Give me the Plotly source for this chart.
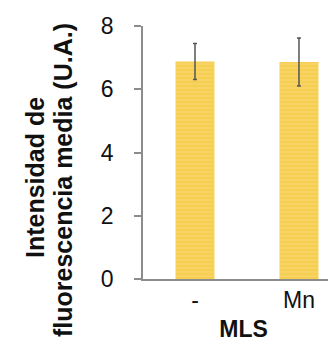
import plotly.graph_objects as go

categories = ["-", "Mn"]
values = [6.88, 6.86]
errors = [0.57, 0.76]
y_ticks = [0, 2, 4, 6, 8]
title_lines = ["Intensidad de", "fluorescencia media (U.A.)"]
x_title = "MLS"

W, H = 336, 351
ml, mr, mt, mb = 135, 0, 18, 80
pw = W - ml - mr
ph = H - mt - mb

def px_x(p):
    return (p - ml) / pw

def px_y(p):
    return (H - mb - p) / ph

font = "Liberation Sans, Arial, sans-serif"

fig = go.Figure()
fig.add_trace(go.Bar(
    x=categories, y=values,
    width=0.375,
    marker=dict(color="#F6CE52", line=dict(width=0),
                pattern=dict(shape="-", fgcolor="#FBE49C", size=4, solidity=0.25, fillmode="overlay")),
    error_y=dict(type="data", array=errors, visible=True, color="#555555", thickness=1.5, width=2),
))

fig.update_layout(
    width=W, height=H,
    margin=dict(l=ml, r=mr, t=mt, b=mb),
    plot_bgcolor="white", paper_bgcolor="white",
    showlegend=False,
    font=dict(family=font, color="#111111"),
    xaxis=dict(
        range=[-0.5, 1.433], showline=True, linecolor="#8c8c8c", linewidth=1.5,
        ticks="", tickfont=dict(size=23), ticklabelstandoff=0,
        title=dict(text="<b>%s</b>" % x_title, font=dict(size=23), standoff=9),
        showgrid=False, zeroline=False, fixedrange=True,
    ),
    yaxis=dict(
        range=[0, 8], tickvals=y_ticks, showline=True, linecolor="#8c8c8c", linewidth=1.5,
        ticks="outside", ticklen=7, tickcolor="#8c8c8c", tickwidth=1.5,
        tickfont=dict(size=23), ticklabelstandoff=16,
        showgrid=False, zeroline=False,
    ),
    annotations=[
        dict(text="<b>%s</b>" % title_lines[0], textangle=-90, xref="paper", yref="paper",
             x=px_x(27), y=px_y(170), xanchor="center", yanchor="middle", showarrow=False,
             font=dict(size=25)),
        dict(text="<b>%s</b>" % title_lines[1], textangle=-90, xref="paper", yref="paper",
             x=px_x(55), y=px_y(172), xanchor="center", yanchor="middle", showarrow=False,
             font=dict(size=25)),
    ],
)

fig.write_html("out.html")
